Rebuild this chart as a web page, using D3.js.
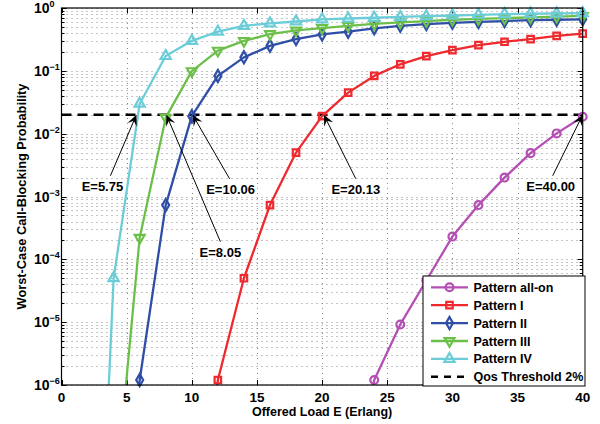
<!DOCTYPE html>
<html>
<head>
<meta charset="utf-8">
<script src="https://cdn.jsdelivr.net/npm/d3@7"></script>
<style>
  body { margin: 0; background: #fff; }
  text { font-family: "Liberation Sans", Arial, sans-serif; font-weight: bold; fill: #000; }
</style>
</head>
<body>
<div id="body"></div>
<script>
// offered load (Erlang) and worst-case blocking probability for each pattern
var eAllOn = [22, 24, 26, 28, 30, 32, 34, 36, 38, 40];
var pAllOn = [1e-8, 1.2e-6, 9.2e-6, 4.6e-5, 2.3e-4, 7.3e-4, 2.0e-3, 4.9e-3, 1.01e-2, 1.86e-2];
var eP1 = [10, 12, 14, 16, 18, 20, 22, 24, 26, 28, 30, 32, 34, 36, 38, 40];
var pP1 = [1e-10, 1.2e-6, 5e-5, 7.3e-4, 5.0e-3, 1.9e-2, 4.5e-2, 8.3e-2, 0.127, 0.172, 0.214, 0.257, 0.29, 0.32, 0.36, 0.39];
var eP2 = [4, 6, 8, 10, 12, 14, 16, 18, 20, 22, 24, 26, 28, 30, 32, 34, 36, 38, 40];
var pP2 = [1e-10, 1.2e-6, 7.3e-4, 1.9e-2, 8.3e-2, 0.164, 0.25, 0.32, 0.38, 0.42, 0.475, 0.52, 0.555, 0.58, 0.60, 0.62, 0.64, 0.65, 0.66];
var eP3 = [4, 6, 8, 10, 12, 14, 16, 18, 20, 22, 24, 26, 28, 30, 32, 34, 36, 38, 40];
var pP3 = [8e-9, 2.2e-4, 1.8e-2, 9.9e-2, 0.21, 0.30, 0.385, 0.44, 0.48, 0.52, 0.56, 0.59, 0.62, 0.65, 0.67, 0.69, 0.71, 0.73, 0.75];
var eP4 = [2, 4, 6, 8, 10, 12, 14, 16, 18, 20, 22, 24, 26, 28, 30, 32, 34, 36, 38, 40];
var pP4 = [3e-14, 5e-5, 3.0e-2, 0.172, 0.30, 0.42, 0.52, 0.57, 0.61, 0.66, 0.68, 0.70, 0.72, 0.74, 0.76, 0.78, 0.80, 0.81, 0.82, 0.83];

var seriesNames = ["Pattern all-on", "Pattern I", "Pattern II", "Pattern III", "Pattern IV"];
var threshold = 0.02;
var thresholdName = "Qos Threshold 2%";

var annE = [5.75, 8.05, 10.06, 20.13, 40.00];
var annLabels = ["E=5.75", "E=8.05", "E=10.06", "E=20.13", "E=40.00"];

var xTicks = [0, 5, 10, 15, 20, 25, 30, 35, 40];
var yExps = [0, -1, -2, -3, -4, -5, -6];

window.onload = function(){
  var W = 600, H = 424;
  var left = 61.5, right = 582.7, top = 8, bottom = 385;

  var svg = d3.select("#body").append("svg").attr("width", W).attr("height", H);

  var x = d3.scaleLinear().domain([0, 40]).range([left, right]);
  var y = d3.scaleLog().domain([1e-6, 1]).range([bottom, top]);

  var colors = ["#b44fb4", "#ee2a2e", "#2f4ea6", "#6cc04a", "#6ccdd8"];
  var shapes = [d3.symbolCircle, d3.symbolSquare, d3.symbolDiamond, d3.symbolTriangle, d3.symbolTriangle];
  var sizes = [48, 42, 42, 42, 46];
  var rot = [0, 0, 0, 180, 0];
  var es = [eAllOn, eP1, eP2, eP3, eP4];
  var ps = [pAllOn, pP1, pP2, pP3, pP4];

  svg.append("clipPath").attr("id", "plot").append("rect")
    .attr("x", left).attr("y", top).attr("width", right - left).attr("height", bottom - top);

  // grid
  var minorVals = [];
  yExps.forEach(function(k){
    for (var m = 1; m < 10; m++) {
      var v = m * Math.pow(10, k);
      if (v <= 1 && v >= 1e-6) minorVals.push(v);
    }
  });
  var grid = svg.append("g").attr("stroke", "#8a8a8a").attr("stroke-width", 1).attr("stroke-dasharray", "1,4");
  grid.selectAll(".gy").data(minorVals).enter().append("line")
    .attr("x1", left).attr("x2", right)
    .attr("y1", function(d){ return Math.round(y(d)) + 0.5; })
    .attr("y2", function(d){ return Math.round(y(d)) + 0.5; });
  grid.selectAll(".gx").data(xTicks.slice(1, -1)).enter().append("line")
    .attr("y1", top).attr("y2", bottom)
    .attr("x1", function(d){ return Math.round(x(d)) + 0.5; })
    .attr("x2", function(d){ return Math.round(x(d)) + 0.5; });

  // ticks (inward, all four sides)
  var tk = svg.append("g").attr("stroke", "#000").attr("stroke-width", 1);
  minorVals.forEach(function(v){
    var major = Math.abs(Math.log10(v) - Math.round(Math.log10(v))) < 1e-9;
    var len = major ? 5 : 3;
    var yy = Math.round(y(v)) + 0.5;
    tk.append("line").attr("x1", left).attr("x2", left + len).attr("y1", yy).attr("y2", yy);
    tk.append("line").attr("x1", right).attr("x2", right - len).attr("y1", yy).attr("y2", yy);
  });
  xTicks.forEach(function(t){
    var xx = Math.round(x(t)) + 0.5;
    tk.append("line").attr("x1", xx).attr("x2", xx).attr("y1", bottom).attr("y2", bottom - 5);
    tk.append("line").attr("x1", xx).attr("x2", xx).attr("y1", top).attr("y2", top + 5);
  });

  // tick labels
  svg.selectAll(".xl").data(xTicks).enter().append("text")
    .attr("x", function(d){ return x(d); })
    .attr("y", 402)
    .attr("text-anchor", "middle")
    .attr("font-size", "13.5px")
    .text(function(d){ return d; });

  yExps.forEach(function(k){
    var yy = y(Math.pow(10, k));
    var t = svg.append("text").attr("y", yy + 5).attr("font-size", "14px");
    t.append("tspan").attr("x", 34).text("10");
    t.append("tspan").attr("dy", -6).attr("font-size", "9px").text(k === 0 ? "0" : "\u2212" + (-k));
  });

  // axis titles
  svg.append("text")
    .attr("x", (left + right) / 2).attr("y", 416)
    .attr("text-anchor", "middle").attr("font-size", "12.5px")
    .text("Offered Load E (Erlang)");
  svg.append("text")
    .attr("transform", "translate(26," + ((top + bottom) / 2) + ") rotate(-90)")
    .attr("text-anchor", "middle").attr("font-size", "12.8px")
    .text("Worst-Case Call-Blocking Probability");

  // threshold
  svg.append("line")
    .attr("x1", left).attr("x2", right)
    .attr("y1", y(threshold)).attr("y2", y(threshold))
    .attr("stroke", "#000").attr("stroke-width", 2.6).attr("stroke-dasharray", "10,6");

  // curves
  var line = d3.line().x(function(d){ return x(d[0]); }).y(function(d){ return y(d[1]); });
  var plot = svg.append("g");
  for (var s = 0; s < 5; s++) {
    var pts = es[s].map(function(e, i){ return [e, ps[s][i]]; });
    plot.append("path").datum(pts)
      .attr("clip-path", "url(#plot)")
      .attr("d", line)
      .attr("fill", "none").attr("stroke", colors[s]).attr("stroke-width", 2.3)
      .attr("stroke-linejoin", "round");
    var sym = d3.symbol().type(shapes[s]).size(sizes[s]);
    plot.selectAll(".m" + s).data(pts.filter(function(d){ return d[1] >= 1e-6; })).enter()
      .append("path")
      .attr("d", sym)
      .attr("transform", function(d){
        return "translate(" + x(d[0]) + "," + y(d[1]) + ") rotate(" + rot[s] + ")";
      })
      .attr("fill", "none").attr("stroke", colors[s]).attr("stroke-width", 2.2);
  }

  // frame
  svg.append("rect")
    .attr("x", left).attr("y", top).attr("width", right - left).attr("height", bottom - top)
    .attr("fill", "none").attr("stroke", "#000").attr("stroke-width", 1.2);

  // annotations with arrows
  var tails = [[-26, 61], [54, 127], [37, 64], [32, 64], [-30, 61]];
  var textShift = [-8, 0, 1, 0, -2];
  annE.forEach(function(e, i){
    var hx = x(e), hy = y(threshold);
    var tx = hx + tails[i][0], ty = hy + tails[i][1];
    var dx = hx - tx, dy = hy - ty, len = Math.sqrt(dx * dx + dy * dy);
    var ux = dx / len, uy = dy / len, nx = -uy, ny = ux;
    var hl = 11, hw = 5;
    svg.append("line")
      .attr("x1", tx).attr("y1", ty)
      .attr("x2", hx - ux * 6).attr("y2", hy - uy * 6)
      .attr("stroke", "#000").attr("stroke-width", 1);
    var p = [
      [hx, hy],
      [hx - ux * hl + nx * hw, hy - uy * hl + ny * hw],
      [hx - ux * hl * 0.6, hy - uy * hl * 0.6],
      [hx - ux * hl - nx * hw, hy - uy * hl - ny * hw]
    ];
    svg.append("path")
      .attr("d", "M" + p.map(function(q){ return q.join(","); }).join("L") + "Z")
      .attr("fill", "#000");
    svg.append("text")
      .attr("x", tx + textShift[i]).attr("y", ty + 15)
      .attr("text-anchor", "middle").attr("font-size", "13px")
      .text(annLabels[i]);
  });

  // legend
  var lg = svg.append("g");
  lg.append("rect")
    .attr("x", 423).attr("y", 276).attr("width", 162).attr("height", 110)
    .attr("fill", "#fff").attr("stroke", "#000").attr("stroke-width", 1);
  var names = seriesNames.concat([thresholdName]);
  names.forEach(function(n, i){
    var ly = 287.3 + i * 17.9;
    if (i < 5) {
      lg.append("line").attr("x1", 431).attr("x2", 468).attr("y1", ly).attr("y2", ly)
        .attr("stroke", colors[i]).attr("stroke-width", 2.3);
      lg.append("path")
        .attr("d", d3.symbol().type(shapes[i]).size(sizes[i]))
        .attr("transform", "translate(449.5," + ly + ") rotate(" + rot[i] + ")")
        .attr("fill", "none").attr("stroke", colors[i]).attr("stroke-width", 2.2);
    } else {
      lg.append("line").attr("x1", 431).attr("x2", 468).attr("y1", ly).attr("y2", ly)
        .attr("stroke", "#000").attr("stroke-width", 2.6).attr("stroke-dasharray", "7,6");
    }
    lg.append("text").attr("x", 473.5).attr("y", ly + 4.5)
      .attr("font-size", "12.5px").text(n);
  });
};
</script>
</body>
</html>
